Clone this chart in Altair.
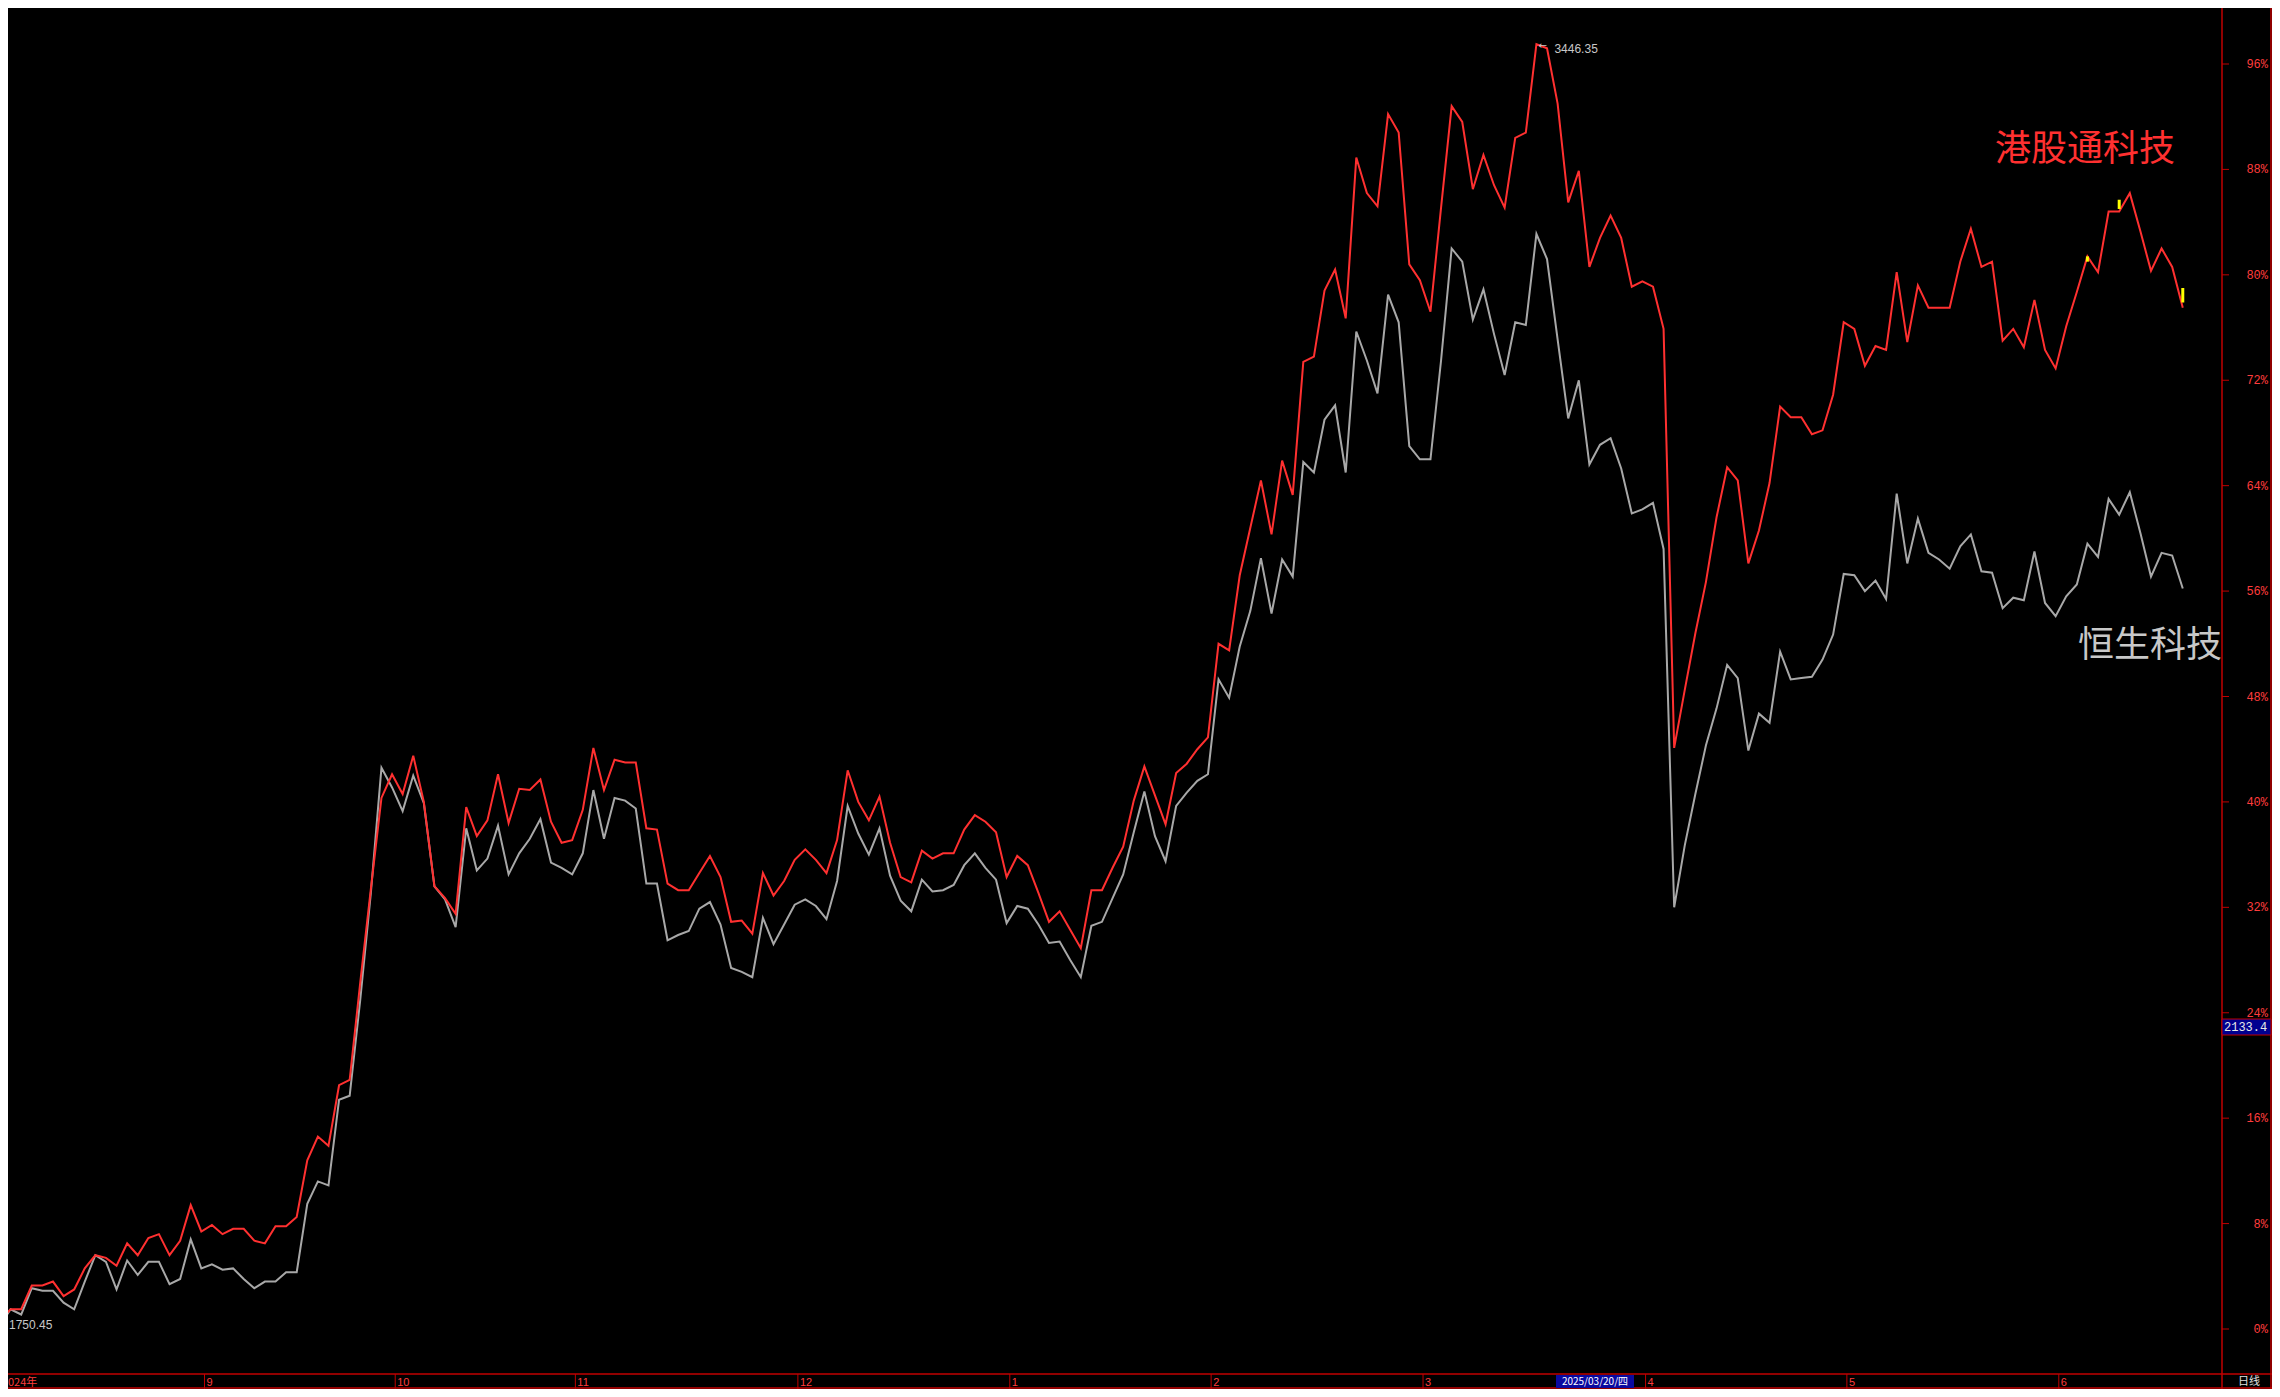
import altair as alt
import pandas as pd

# ---------------- data (percent change since start) ----------------
red = [
    0.7, 1.5, 1.5, 3.3, 3.3, 3.6, 2.5, 3.0, 4.6, 5.6,
    5.4, 4.8, 6.5, 5.6, 6.9, 7.2, 5.6, 6.7, 9.4, 7.4,
    7.9, 7.2, 7.6, 7.6, 6.7, 6.5, 7.8, 7.8, 8.5, 12.8,
    14.6, 13.9, 18.5, 18.9, 26.3, 33.4, 40.3, 42.1, 40.6, 43.5,
    40.0, 33.6, 32.7, 31.5, 39.6, 37.4, 38.6, 42.1, 38.4, 41.0,
    40.9, 41.7, 38.5, 36.9, 37.1, 39.4, 44.1, 40.9, 43.2, 43.0,
    43.0, 38.0, 37.9, 33.8, 33.3, 33.3, 34.6, 35.9, 34.3, 30.9,
    31.0, 30.0, 34.6, 32.9, 34.0, 35.6, 36.4, 35.6, 34.6, 37.1,
    42.4, 40.0, 38.6, 40.4, 36.9, 34.3, 33.9, 36.3, 35.7, 36.1,
    36.1, 37.9, 39.0, 38.5, 37.7, 34.3, 35.9, 35.2, 33.1, 30.9,
    31.7, 30.3, 28.9, 33.3, 33.3, 35.0, 36.6, 40.1, 42.7, 40.5,
    38.3, 42.2, 42.9, 44.0, 44.9, 52.0, 51.5, 57.2, 60.8, 64.4,
    60.3, 65.9, 63.3, 73.4, 73.8, 78.8, 80.4, 76.7, 88.9, 86.2,
    85.2, 92.2, 90.8, 80.8, 79.6, 77.2, 85.1, 92.8, 91.6, 86.5,
    89.1, 86.8, 85.1, 90.4, 90.8, 97.5, 97.2, 93.0, 85.5, 87.9,
    80.6, 82.8, 84.5, 82.8, 79.1, 79.5, 79.1, 75.9, 44.1, 48.5,
    52.8, 56.7, 61.6, 65.4, 64.4, 58.1, 60.6, 64.2, 70.0, 69.2,
    69.2, 67.9, 68.2, 70.9, 76.4, 75.9, 73.1, 74.6, 74.3, 80.2,
    74.9, 79.2, 77.5, 77.5, 77.5, 81.0, 83.5, 80.6, 81.0, 75.0,
    75.9, 74.5, 78.1, 74.3, 72.9, 76.1, 78.7, 81.4, 80.2, 84.8,
    84.8, 86.2, 83.3, 80.3, 82.0, 80.6, 77.5,
]
gray = [
    0.3, 1.5, 1.1, 3.1, 2.9, 2.9, 2.0, 1.5, 3.6, 5.6,
    5.1, 3.0, 5.2, 4.1, 5.1, 5.1, 3.4, 3.8, 6.8, 4.6,
    4.9, 4.5, 4.6, 3.8, 3.1, 3.6, 3.6, 4.3, 4.3, 9.5,
    11.2, 10.9, 17.4, 17.7, 25.0, 33.1, 42.6, 41.1, 39.3, 42.0,
    39.9, 33.6, 32.6, 30.5, 38.0, 34.8, 35.7, 38.2, 34.5, 36.1,
    37.2, 38.7, 35.4, 35.0, 34.5, 36.1, 40.9, 37.2, 40.3, 40.1,
    39.5, 33.8, 33.8, 29.5, 29.9, 30.2, 31.9, 32.4, 30.7, 27.4,
    27.1, 26.7, 31.2, 29.2, 30.7, 32.2, 32.6, 32.1, 31.1, 34.0,
    39.7, 37.6, 36.0, 38.0, 34.4, 32.5, 31.7, 34.1, 33.2, 33.3,
    33.7, 35.2, 36.1, 35.0, 34.1, 30.8, 32.1, 31.9, 30.7, 29.3,
    29.4, 28.0, 26.7, 30.6, 30.9, 32.7, 34.5, 37.7, 40.8, 37.4,
    35.5, 39.7, 40.7, 41.6, 42.1, 49.3, 47.9, 51.8, 54.5, 58.5,
    54.3, 58.4, 57.1, 65.8, 65.0, 69.0, 70.1, 65.0, 75.7, 73.5,
    71.0, 78.5, 76.4, 67.0, 66.0, 66.0, 73.5, 82.0, 81.0, 76.6,
    78.9, 75.5, 72.4, 76.4, 76.2, 83.1, 81.2, 75.1, 69.1, 72.0,
    65.6, 67.1, 67.6, 65.3, 61.9, 62.2, 62.7, 59.2, 32.0, 36.7,
    40.6, 44.3, 47.1, 50.4, 49.4, 43.9, 46.7, 46.0, 51.4, 49.3,
    49.4, 49.5, 50.8, 52.7, 57.3, 57.2, 56.0, 56.8, 55.4, 63.4,
    58.1, 61.5, 58.9, 58.4, 57.7, 59.4, 60.3, 57.5, 57.4, 54.7,
    55.5, 55.3, 59.0, 55.1, 54.1, 55.6, 56.5, 59.6, 58.6, 63.0,
    61.8, 63.5, 60.4, 57.1, 58.9, 58.7, 56.2,
]
day_index = list(range(len(red)))

pct_ticks = [0, 8, 16, 24, 32, 40, 48, 56, 64, 72, 80, 88, 96]
pct_labels = [f"{v}%" for v in pct_ticks]

month_labels = ["9", "10", "11", "12", "1", "2", "3", "4", "5", "6"]
month_start = [19, 37, 54, 75, 95, 114, 134, 155, 174, 194]

flag_idx = [197, 200, 206]
flag_lo = [81.0, 85.0, 77.9]
flag_hi = [81.4, 85.7, 79.0]

peak_idx, peak_val, peak_text = 145, 97.5, "3446.35"
low_idx, low_val, low_text = 0, 0.3, "1750.45"

name_red = "港股通科技"
name_gray = "恒生科技"

# ---------------- layout ----------------
W, H = 2264, 1381
AX = 2214          # right axis line (pixel)
BAR_TOP = 1366
TXT_BASE = 1378
AXIS_RED = "#c00000"
LBL_RED = "#ff3c3c"
LINE_RED = "#ff3030"
LINE_GRAY = "#a8a8a8"

xs = alt.Scale(domain=[0.755, 214.42], nice=False, zero=False)
ys = alt.Scale(domain=[-4.553, 100.25], nice=False, zero=False)

df = pd.DataFrame({"idx": day_index, "red": red, "gray": gray})
ticks_df = pd.DataFrame({"pct": pct_ticks, "label": pct_labels})
month_df = pd.DataFrame({"pos": [m + 0.3 for m in month_start], "label": month_labels})
flag_df = pd.DataFrame({"idx": flag_idx, "lo": flag_lo, "hi": flag_hi})
one = pd.DataFrame({"a": [0]})

X = lambda f: alt.X(f, scale=xs, axis=None)
Y = lambda f: alt.Y(f, scale=ys, axis=None)

gray_line = alt.Chart(df).mark_line(color=LINE_GRAY, strokeWidth=2).encode(x=X("idx:Q"), y=Y("gray:Q"))
red_line = alt.Chart(df).mark_line(color=LINE_RED, strokeWidth=2).encode(x=X("idx:Q"), y=Y("red:Q"))
flags = alt.Chart(flag_df).mark_rule(color="#ffff00", strokeWidth=3).encode(
    x=X("idx:Q"), y=Y("lo:Q"), y2="hi:Q")

axis_line = alt.Chart(one).mark_rule(color=AXIS_RED, strokeWidth=1.5).encode(
    x=alt.value(AX), y=alt.value(0), y2=alt.value(H))
axis_line2 = alt.Chart(one).mark_rule(color=AXIS_RED, strokeWidth=1.5).encode(
    x=alt.value(2263), y=alt.value(0), y2=alt.value(H))
tick_marks = alt.Chart(ticks_df).mark_rule(color=AXIS_RED, strokeWidth=1).encode(
    x=alt.value(AX), x2=alt.value(AX + 7), y=Y("pct:Q"))
tick_text = alt.Chart(ticks_df).mark_text(
    align="right", baseline="middle", font="Liberation Mono", fontSize=12, color=LBL_RED
).encode(x=alt.value(2260), y=Y("pct:Q"), text="label:N")

bar_top = alt.Chart(one).mark_rule(color=AXIS_RED, strokeWidth=1.5).encode(
    x=alt.value(0), x2=alt.value(W), y=alt.value(BAR_TOP))
bar_bot = alt.Chart(one).mark_rule(color=AXIS_RED, strokeWidth=1.5).encode(
    x=alt.value(0), x2=alt.value(W), y=alt.value(H - 1))
month_sep = alt.Chart(month_df).mark_rule(color=AXIS_RED, strokeWidth=1).encode(
    x=X("pos:Q"), y=alt.value(BAR_TOP), y2=alt.value(H))
month_text = alt.Chart(month_df).mark_text(
    align="left", baseline="alphabetic", dx=2, font="Liberation Sans Narrow, Liberation Sans",
    fontSize=11, color=LBL_RED
).encode(x=X("pos:Q"), y=alt.value(TXT_BASE), text="label:N")
year_text = alt.Chart(pd.DataFrame({"t": ["024年"]})).mark_text(
    align="left", baseline="alphabetic", font="Liberation Sans Narrow, Noto Sans CJK SC",
    fontSize=11, color=LBL_RED
).encode(x=alt.value(0), y=alt.value(TXT_BASE), text="t:N")
dayline_text = alt.Chart(pd.DataFrame({"t": ["日线"]})).mark_text(
    align="left", baseline="alphabetic", font="Noto Sans CJK SC", fontSize=11, color="#e0e0e0"
).encode(x=alt.value(2230), y=alt.value(TXT_BASE - 1), text="t:N")

date_box = alt.Chart(one).mark_rect(color="#0a0aa0").encode(
    x=alt.value(1548), x2=alt.value(1626), y=alt.value(BAR_TOP + 1), y2=alt.value(H - 1))
date_text = alt.Chart(pd.DataFrame({"t": ["2025/03/20/四"]})).mark_text(
    align="center", baseline="alphabetic", font="Liberation Sans Narrow, Noto Sans CJK SC",
    fontSize=10, color="#ffffff"
).encode(x=alt.value(1587), y=alt.value(TXT_BASE - 1), text="t:N")

price_box = alt.Chart(one).mark_rect(color="#000090", stroke=AXIS_RED, strokeWidth=1).encode(
    x=alt.value(AX), x2=alt.value(2263), y=alt.value(1011), y2=alt.value(1027))
price_text = alt.Chart(pd.DataFrame({"t": ["2133.4"]})).mark_text(
    align="left", baseline="middle", font="Liberation Mono", fontSize=12, color="#e8e8e8"
).encode(x=alt.value(AX + 2), y=alt.value(1019), text="t:N")

peak_df = pd.DataFrame({"idx": [peak_idx], "v": [peak_val], "t": [peak_text]})
peak_lbl = alt.Chart(peak_df).mark_text(
    align="left", baseline="middle", dx=18, dy=5, font="Liberation Sans", fontSize=12, color="#c8c8c8"
).encode(x=X("idx:Q"), y=Y("v:Q"), text="t:N")
peak_arrow = alt.Chart(peak_df).mark_text(
    align="left", baseline="middle", dx=2, dy=2, font="DejaVu Sans", fontSize=10, color="#c8c8c8"
).encode(x=X("idx:Q"), y=Y("v:Q"), text=alt.value("←"))
low_df = pd.DataFrame({"idx": [low_idx], "v": [low_val], "t": [low_text]})
low_lbl = alt.Chart(low_df).mark_text(
    align="left", baseline="middle", dx=9, font="Liberation Sans", fontSize=12, color="#c8c8c8"
).encode(x=X("idx:Q"), y=Y("v:Q"), text="t:N")

name_r = alt.Chart(pd.DataFrame({"t": [name_red]})).mark_text(
    align="center", baseline="middle", font="Noto Sans CJK SC", fontSize=36, color=LINE_RED
).encode(x=alt.value(2077), y=alt.value(142), text="t:N")
name_g = alt.Chart(pd.DataFrame({"t": [name_gray]})).mark_text(
    align="center", baseline="middle", font="Noto Sans CJK SC", fontSize=36, color="#c8c8c8"
).encode(x=alt.value(2142), y=alt.value(638), text="t:N")

chart = alt.layer(
    gray_line, red_line, flags,
    axis_line, axis_line2, tick_marks, tick_text,
    bar_top, bar_bot, month_sep, month_text, year_text, dayline_text,
    date_box, date_text, price_box, price_text,
    peak_arrow, peak_lbl, low_lbl, name_r, name_g,
).properties(
    width=W, height=H, padding=0, autosize="none", background="#000000"
).configure_view(strokeWidth=0)

chart.save("out.html", embed_options={"renderer": "svg", "actions": False})
